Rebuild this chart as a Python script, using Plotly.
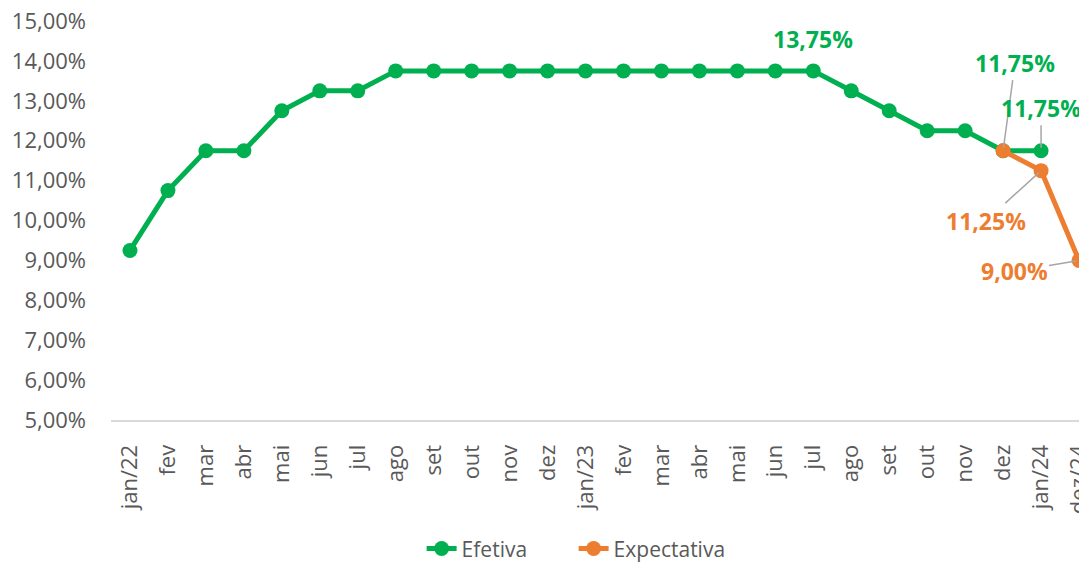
import plotly.graph_objects as go

# Selic: efetiva x expectativa
months = ["jan/22", "fev/22", "mar/22", "abr/22", "mai/22", "jun/22", "jul/22", "ago/22",
          "set/22", "out/22", "nov/22", "dez/22", "jan/23", "fev/23", "mar/23", "abr/23",
          "mai/23", "jun/23", "jul/23", "ago/23", "set/23", "out/23", "nov/23", "dez/23",
          "jan/24", "dez/24"]
tick_labels = ["jan/22", "fev", "mar", "abr", "mai", "jun", "jul", "ago", "set", "out", "nov",
               "dez", "jan/23", "fev", "mar", "abr", "mai", "jun", "jul", "ago", "set", "out",
               "nov", "dez", "jan/24", "dez/24"]
efetiva = [9.25, 10.75, 11.75, 11.75, 12.75, 13.25, 13.25, 13.75, 13.75, 13.75, 13.75, 13.75,
           13.75, 13.75, 13.75, 13.75, 13.75, 13.75, 13.75, 13.25, 12.75, 12.25, 12.25, 11.75,
           11.75, None]
expectativa = [None] * 23 + [11.75, 11.25, 9.00]
y_ticks = [5, 6, 7, 8, 9, 10, 11, 12, 13, 14, 15]

GREEN = "#00B050"
ORANGE = "#ED7D31"
GRAY = "#595959"
FONT = "Open Sans"


def pct(v):
    return f"{v:.2f}".replace(".", ",") + "%"


fig = go.Figure()
fig.add_trace(go.Scatter(x=months, y=efetiva, name="Efetiva", mode="lines+markers",
                         line=dict(color=GREEN, width=5), marker=dict(size=15, color=GREEN)))
fig.add_trace(go.Scatter(x=months, y=expectativa, name="Expectativa", mode="lines+markers",
                         line=dict(color=ORANGE, width=5), marker=dict(size=15, color=ORANGE)))

# data labels: (series, index, dx, dy, color, leader line)
labels = [
    (efetiva, 18, 0, -32, GREEN, False),
    (efetiva, 23, 12, -88, GREEN, True),
    (efetiva, 24, 0, -43, GREEN, True),
    (expectativa, 24, -55, 50, ORANGE, True),
    (expectativa, 25, -65, 11, ORANGE, True),
]
for series, i, dx, dy, color, arrow in labels:
    fig.add_annotation(x=months[i], y=series[i], text=pct(series[i]),
                       showarrow=arrow, ax=dx, ay=dy, arrowhead=0, arrowwidth=1.5,
                       arrowcolor="#A6A6A6", standoff=3,
                       yshift=0 if arrow else -dy,
                       font=dict(family=FONT, size=23, color=color, weight="bold"))

# page body has an 8px margin, so the figure is shifted; the overflow is cropped
fig.update_layout(
    width=1079, height=563,
    paper_bgcolor="white", plot_bgcolor="white",
    margin=dict(l=103, r=0, t=13, b=151),
    font=dict(family=FONT, size=22, color=GRAY),
    showlegend=True,
    legend=dict(orientation="h", x=0.474, xanchor="center", y=-0.323, yanchor="middle",
                font=dict(size=21, color=GRAY), entrywidth=107),
    xaxis=dict(type="category", categoryarray=months, tickmode="array", tickvals=months,
               ticktext=tick_labels, tickangle=-90, range=[-0.5, 25.21], automargin=False,
               showline=True, linecolor="#D9D9D9", linewidth=2, showgrid=False,
               ticks="", ticklabelstandoff=14, zeroline=False, tickfont=dict(size=22)),
    yaxis=dict(range=[5, 15], tickvals=y_ticks, ticktext=[pct(v) for v in y_ticks],
               showgrid=False, zeroline=False, showline=False, ticks="", automargin=False,
               ticklabelstandoff=24, tickfont=dict(size=22), ticklabeloverflow="allow"),
)

fig.write_html("out.html")
